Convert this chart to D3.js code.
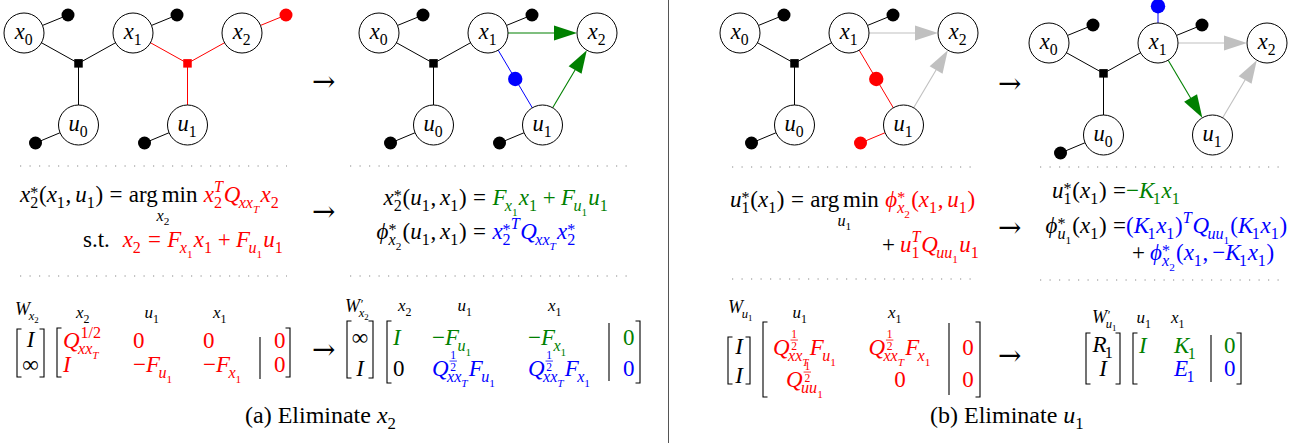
<!DOCTYPE html>
<html><head><meta charset="utf-8">
<script src="https://cdn.jsdelivr.net/npm/d3@7/dist/d3.min.js"></script>
<style>
html,body{margin:0;padding:0;background:#fff;}
svg{display:block;font-family:"Liberation Serif","Times New Roman",serif;}
</style></head><body>
<svg id="fig" width="1312" height="443" font-family="Liberation Serif, Times New Roman, serif"></svg>
<script>
const PAL = {black:"#000000", red:"#ff0000", green:"#008000", blue:"#0000ff", gray:"#c0c0c0"};

// ---------- factor graphs ----------
const varNodes = [
  {id:"x0", v:"x", k:"0", col:0,   row:0},
  {id:"x1", v:"x", k:"1", col:1,   row:0},
  {id:"x2", v:"x", k:"2", col:2,   row:0},
  {id:"u0", v:"u", k:"0", col:0.5, row:1},
  {id:"u1", v:"u", k:"1", col:1.5, row:1}
];
const dynFactor = {shape:"square", col:0.5, row:0.33, color:"black", links:["x0","x1","u0"]};

const factorsA = [dynFactor, {shape:"square", col:1.5, row:0.33, color:"red", links:["x1","x2","u1"]}];
const priorsA  = [{node:"x0",color:"black"},{node:"x1",color:"black"},{node:"x2",color:"red"},{node:"u0",color:"black"},{node:"u1",color:"black"}];
const arrowsA  = [];

const factorsB = [dynFactor, {shape:"dot", col:1.25, row:0.5, color:"blue", links:["x1","u1"]}];
const priorsB  = [{node:"x0",color:"black"},{node:"x1",color:"black"},{node:"u0",color:"black"},{node:"u1",color:"black"}];
const arrowsB  = [{from:"x1",to:"x2",color:"green"},{from:"u1",to:"x2",color:"green"}];

const factorsC = [dynFactor, {shape:"dot", col:1.25, row:0.5, color:"red", links:["x1","u1"]}];
const priorsC  = [{node:"x0",color:"black"},{node:"x1",color:"black"},{node:"u0",color:"black"},{node:"u1",color:"red"}];
const arrowsC  = [{from:"x1",to:"x2",color:"gray"},{from:"u1",to:"x2",color:"gray"}];

const factorsD = [dynFactor, {shape:"dot", col:1, row:-0.4, color:"blue", links:["x1"]}];
const priorsD  = [{node:"x0",color:"black"},{node:"x1",color:"black"},{node:"u0",color:"black"}];
const arrowsD  = [{from:"x1",to:"u1",color:"green"},{from:"x1",to:"x2",color:"gray"},{from:"u1",to:"x2",color:"gray"}];

// ---------- equations ----------
const eqA = {
  line1: "x_2^*(x_1,\\,u_1)\\;=\\;\\argmin{x_2}\\;\\R{x_2^T Q_{xx_T} x_2}",
  line2: "\\rm{s.t.}\\;\\;\\R{x_2\\;=\\;F_{x_1}x_1\\:+\\:F_{u_1}u_1}"
};
const eqA2lhs = ["x_2^*(u_1,\\,x_1)", "\\phi^*_{x_2}(u_1,\\,x_1)"];
const eqA2rhs = ["=\\;\\G{F_{x_1}x_1\\:+\\:F_{u_1}u_1}", "=\\;\\B{x_2^{*T}Q_{xx_T}x_2^*}"];
const eqB = {
  line1: "u_1^*(x_1)\\;=\\;\\argmin{u_1}\\;\\R{\\phi^*_{x_2}(x_1,\\,u_1)}",
  line2: "+\\:\\R{u_1^T Q_{uu_1} u_1}"
};
const eqB2lhs = ["u_1^*(x_1)", "\\phi^*_{u_1}(x_1)"];
const eqB2rhs = ["=\\G{-K_1x_1}", "=\\B{(K_1x_1)^T Q_{uu_1}(K_1x_1)}"];
const eqB2cont = "+\\:\\B{\\phi^*_{x_2}(x_1,\\,-K_1x_1)}";

// ---------- matrices ----------
const matA1W = "W_{x_2}",  matA1Vec = ["I","\\infty"], matA1Cols = ["x_2","u_1","x_1"];
const matA1Rows = [["\\R{Q^{1/2}_{xx_T}}","\\R{0}","\\R{0}"],["\\R{I}","\\R{-F_{u_1}}","\\R{-F_{x_1}}"]];
const matA1Rhs = ["\\R{0}","\\R{0}"];

const matA2W = "W^{'}_{x_2}", matA2Vec = ["\\infty","I"], matA2Cols = ["x_2","u_1","x_1"];
const matA2Rows = [["\\G{I}","\\G{-F_{u_1}}","\\G{-F_{x_1}}"],["0","\\B{Q^{\\frac12}_{xx_T}F_{u_1}}","\\B{Q^{\\frac12}_{xx_T}F_{x_1}}"]];
const matA2Rhs = ["\\G{0}","\\B{0}"];

const matB1W = "W_{u_1}", matB1Vec = ["I","I"], matB1Cols = ["u_1","x_1"];
const matB1Rows = [["\\R{Q^{\\frac12}_{xx_T}F_{u_1}}","\\R{Q^{\\frac12}_{xx_T}F_{x_1}}"],["\\R{Q^{\\frac12}_{uu_1}}","\\R{0}"]];
const matB1Rhs = ["\\R{0}","\\R{0}"];

const matB2W = "W^{'}_{u_1}", matB2Vec = ["R_1","I"], matB2Cols = ["u_1","x_1"];
const matB2Rows = [["\\G{I}","\\G{K_1}"],["","\\B{E_1}"]];
const matB2Rhs = ["\\G{0}","\\B{0}"];

const captions = ["\\rm{(a) Eliminate}\\ x_2", "\\rm{(b) Eliminate}\\ u_1"];

// ================= rendering =================
const svg = d3.select("#fig");
const SERIF = "Liberation Serif, Times New Roman, serif";

// --- tiny math typesetter (subset of TeX notation) ---
function parseTeX(s) {
  let i = 0;
  const COLS = {R: PAL.red, G: PAL.green, B: PAL.blue};
  function seq(stop) {
    const out = [];
    while (i < s.length && s[i] !== stop) {
      let a = atom();
      if (a === null) continue;
      let sub = null, sup = null;
      while (s[i] === "_" || s[i] === "^") {
        const k = s[i++];
        const arg = group();
        if (k === "_") sub = arg; else sup = arg;
      }
      if (sub || sup) a = {b: [a], sub, sup};
      out.push(a);
    }
    return out;
  }
  function group() {
    while (s[i] === " ") i++;
    if (s[i] === "{") { i++; const r = seq("}"); i++; return r; }
    const a = atom();
    return a ? [a] : [];
  }
  function atom() {
    const ch = s[i];
    if (ch === " ") { i++; return null; }
    if (ch === "{") { i++; const r = seq("}"); i++; return {g: r}; }
    if (ch === "\\") {
      i++;
      const n0 = s[i];
      const SP = {",": 0.167, ":": 0.222, ";": 0.278, " ": 0.25, "!": -0.167};
      if (n0 in SP) { i++; return {sp: SP[n0]}; }
      let name = "";
      while (i < s.length && /[a-zA-Z]/.test(s[i])) name += s[i++];
      if (name === "phi") return {t: "\u03d5", i: true};
      if (name === "infty") return {t: "\u221e"};
      if (name in COLS) return {g: group(), c: COLS[name]};
      if (name === "rm") { i++; let t = ""; while (s[i] !== "}") t += s[i++]; i++; return {t}; }
      if (name === "frac") { const n = group(); const d = group(); return {fr: [n, d]}; }
      if (name === "argmin") return {lim: ["arg", "min"], below: group()};
      return {t: name};
    }
    i++;
    if (/[a-zA-Z]/.test(ch)) return {t: ch, i: true};
    if (ch === "-") return {t: "\u2212"};
    if (ch === "*") return {t: "*", dy: 0.33};
    if (ch === "'") return {t: "\u2032", dy: 0.25};
    return {t: ch};
  }
  return seq(null);
}

function lay(g, items, x, y, size, color) {
  let cx = x;
  for (const it of items) {
    if (!it) continue;
    const c = it.c || color;
    if (it.sp !== undefined) {
      cx += it.sp * size;
    } else if (it.g) {
      cx += lay(g, it.g, cx, y, size, c);
    } else if (it.t !== undefined) {
      const el = g.append("text").attr("x", cx).attr("y", y + (it.dy || 0) * size)
        .attr("font-family", SERIF).attr("font-size", size).attr("fill", c)
        .attr("font-style", it.i ? "italic" : "normal").text(it.t);
      cx += el.node().getComputedTextLength();
    } else if (it.lim) {
      // operator words set upright, with the limit centred underneath
      const x0 = cx;
      it.lim.forEach((word, k) => {
        if (k) cx += 0.167 * size;
        const el = g.append("text").attr("x", cx).attr("y", y).attr("font-size", size)
          .attr("font-family", SERIF).attr("fill", c).text(word);
        cx += el.node().getComputedTextLength();
      });
      const gb = g.append("g");
      const wb = lay(gb, it.below, 0, y + 0.82 * size, size * 0.7, c);
      gb.attr("transform", `translate(${x0 + (cx - x0 - wb) / 2},0)`);
    } else if (it.fr) {
      const fs = size * 0.72, bar = y - 0.5 * size;
      const gn = g.append("g"), gd = g.append("g");
      const wn = lay(gn, it.fr[0], 0, bar - 0.1 * size, fs, c);
      const wd = lay(gd, it.fr[1], 0, bar + 0.1 * size + 0.7 * fs, fs, c);
      const w = Math.max(wn, wd) + 0.1 * size;
      gn.attr("transform", `translate(${cx + (w - wn) / 2},0)`);
      gd.attr("transform", `translate(${cx + (w - wd) / 2},0)`);
      g.append("line").attr("x1", cx).attr("x2", cx + w).attr("y1", bar).attr("y2", bar)
        .attr("stroke", c).attr("stroke-width", Math.max(0.6, size * 0.05));
      cx += w;
    } else if (it.b) {
      cx += lay(g, it.b, cx, y, size, c);
      const ss = size * 0.7;
      const base = it.b[0];
      const capItalic = base && base.i && /[FQKWRE]/.test(base.t || "");
      let w = 0;
      if (it.sub) {
        const off = capItalic ? -0.07 * size : 0;
        const gs = g.append("g");
        const ws = lay(gs, it.sub, 0, y + 0.27 * size, ss, c);
        gs.attr("transform", `translate(${cx + off},0)`);
        w = Math.max(w, ws + off);
      }
      if (it.sup) {
        const hasFrac = it.sup.some(d => d && d.fr);
        const off = capItalic ? 0.04 * size : 0;
        const gs = g.append("g");
        const ws = lay(gs, it.sup, 0, hasFrac ? y - 0.3 * size : y - 0.42 * size, ss, c);
        gs.attr("transform", `translate(${cx + off},0)`);
        w = Math.max(w, ws + off);
      }
      cx += w + 0.03 * size;
    }
  }
  return cx - x;
}

function formula(parent, tex, x, y, size, anchor = "start", color = PAL.black) {
  const g = parent.append("g");
  const w = lay(g, parseTeX(tex), 0, 0, size, color);
  const dx = anchor === "middle" ? -w / 2 : anchor === "end" ? -w : 0;
  g.attr("transform", `translate(${x + dx},${y})`);
  return w;
}

// --- graphs ---
const R_NODE = 20, R_PRIOR = 6.5, R_MID = 7.2, SQ = 8.5, HEAD_L = 23, HEAD_W = 7.5;
const PRIOR_OFF = {x: [44, -18], u: [-43, 18]};

function drawGraph(origin, factors, priors, arrows) {
  const xs = d3.scaleLinear().domain([0, 1]).range([origin[0], origin[0] + 109]);
  const ys = d3.scaleLinear().domain([0, 1]).range([origin[1], origin[1] + 92]);
  const g = svg.append("g");
  const pos = {};
  varNodes.forEach(n => pos[n.id] = [xs(n.col), ys(n.row)]);
  const eg = g.append("g"), ng = g.append("g"), fg = g.append("g");

  factors.forEach(f => {
    const p = [xs(f.col), ys(f.row)];
    f.links.forEach(id => {
      eg.append("line").attr("x1", p[0]).attr("y1", p[1]).attr("x2", pos[id][0]).attr("y2", pos[id][1])
        .attr("stroke", PAL[f.color]).attr("stroke-width", 1);
    });
    if (f.shape === "square") {
      fg.append("rect").attr("x", p[0] - SQ / 2).attr("y", p[1] - SQ / 2).attr("width", SQ).attr("height", SQ)
        .attr("fill", PAL[f.color]);
    } else {
      fg.append("circle").attr("cx", p[0]).attr("cy", p[1]).attr("r", R_MID).attr("fill", PAL[f.color]);
    }
  });
  priors.forEach(pr => {
    const n = varNodes.find(d => d.id === pr.node);
    const o = PRIOR_OFF[n.v];
    const p = pos[n.id], q = [p[0] + o[0], p[1] + o[1]];
    eg.append("line").attr("x1", p[0]).attr("y1", p[1]).attr("x2", q[0]).attr("y2", q[1])
      .attr("stroke", PAL[pr.color]).attr("stroke-width", 1);
    fg.append("circle").attr("cx", q[0]).attr("cy", q[1]).attr("r", R_PRIOR).attr("fill", PAL[pr.color]);
  });
  arrows.forEach(a => {
    const s = pos[a.from], t = pos[a.to];
    const dx = t[0] - s[0], dy = t[1] - s[1], L = Math.hypot(dx, dy);
    const ux = dx / L, uy = dy / L, nx = -uy, ny = ux;
    const st = [s[0] + ux * R_NODE, s[1] + uy * R_NODE];
    const tip = [t[0] - ux * R_NODE, t[1] - uy * R_NODE];
    const base = [tip[0] - ux * HEAD_L, tip[1] - uy * HEAD_L];
    eg.append("line").attr("x1", st[0]).attr("y1", st[1]).attr("x2", base[0] + ux * 2).attr("y2", base[1] + uy * 2)
      .attr("stroke", PAL[a.color]).attr("stroke-width", 1.1);
    fg.append("path").attr("d", `M${tip[0]},${tip[1]}L${base[0] + nx * HEAD_W},${base[1] + ny * HEAD_W}L${base[0] - nx * HEAD_W},${base[1] - ny * HEAD_W}Z`)
      .attr("fill", PAL[a.color]);
  });
  varNodes.forEach(n => {
    const p = pos[n.id];
    ng.append("circle").attr("cx", p[0]).attr("cy", p[1]).attr("r", R_NODE)
      .attr("fill", "#fff").attr("stroke", "#000").attr("stroke-width", 1);
    formula(ng, `${n.v}_${n.k}`, p[0], p[1] + 5.5, 22.5, "middle");
  });
}

drawGraph([24, 33], factorsA, priorsA, arrowsA);
drawGraph([379, 33], factorsB, priorsB, arrowsB);
drawGraph([740, 33], factorsC, priorsC, arrowsC);
drawGraph([1049, 43], factorsD, priorsD, arrowsD);

// --- panel divider ---
svg.append("line").attr("x1", 668.5).attr("x2", 668.5).attr("y1", 0).attr("y2", 443)
  .attr("stroke", "#555").attr("stroke-width", 1);

// --- transition arrows ---
[[312, 83], [312, 213], [312, 351], [998, 85], [998, 229], [998, 357]].forEach(([x, y]) => {
  svg.append("text").attr("x", x).attr("y", y + 8).attr("font-family", "DejaVu Serif")
    .attr("font-size", 28).attr("font-weight", 300).text("\u2192");
});

// --- dotted separators ---
[[20, 287, 166], [20, 287, 276], [350, 632, 166], [350, 632, 276],
 [732, 973, 167], [732, 973, 279], [1040, 1280, 167], [1040, 1280, 280]].forEach(([a, b, y]) => {
  svg.append("line").attr("x1", a).attr("x2", b).attr("y1", y).attr("y2", y)
    .attr("stroke", "#888").attr("stroke-width", 1.2).attr("stroke-dasharray", "1.2 8.3");
});

// --- equations ---
const FS = 23;
formula(svg, eqA.line1, 20, 202, FS);
formula(svg, eqA.line2, 83, 247, FS);
const xEqA = 473;
[205, 239].forEach((y, k) => {
  formula(svg, eqA2lhs[k], xEqA - 0.278 * FS, y, FS, "end");
  formula(svg, eqA2rhs[k], xEqA, y, FS);
});
formula(svg, eqB.line1, 730, 207, FS);
formula(svg, eqB.line2, 882, 252, FS);
const xEqB = 1113;
[198, 233].forEach((y, k) => {
  formula(svg, eqB2lhs[k], xEqB - 0.278 * FS, y, FS, "end");
  formula(svg, eqB2rhs[k], xEqB, y, FS);
});
formula(svg, eqB2cont, 1132, 260, FS);

// --- matrices ---
const MS = 23;
function bracket(x1, x2, top, bot, serif = 4.5) {
  svg.append("path").attr("d", `M${x1 + serif},${top}H${x1}V${bot}H${x1 + serif}`)
    .attr("fill", "none").attr("stroke", "#000").attr("stroke-width", 1.1);
  svg.append("path").attr("d", `M${x2 - serif},${top}H${x2}V${bot}H${x2 - serif}`)
    .attr("fill", "none").attr("stroke", "#000").attr("stroke-width", 1.1);
}
function drawMatrix(L, W, vec, cols, rows, rhs) {
  formula(svg, W, L.W[0], L.W[1], 18);
  cols.forEach((c, j) => formula(svg, c, L.labX[j], L.labY, 17, "middle"));
  bracket(L.vec[0], L.vec[1], L.vec[2], L.vec[3]);
  vec.forEach((v, r) => formula(svg, v, (L.vec[0] + L.vec[1]) / 2, L.vecY[r], MS, "middle"));
  bracket(L.br[0], L.br[1], L.br[2], L.br[3]);
  rows.forEach((row, r) => row.forEach((cell, j) => {
    if (cell) formula(svg, cell, L.cellX[j], L.rowY[r], MS, L.align);
  }));
  rhs.forEach((cell, r) => formula(svg, cell, L.rhsX, L.rowY[r], MS, L.align));
  svg.append("line").attr("x1", L.sep[0]).attr("x2", L.sep[0]).attr("y1", L.sep[1]).attr("y2", L.sep[2])
    .attr("stroke", "#000").attr("stroke-width", 1.1);
}
drawMatrix({W: [15, 315], labX: [83, 152, 220], labY: 318, vec: [17, 44, 329, 377], vecY: [347, 372],
            br: [57, 290, 328, 377], rowY: [348, 372], cellX: [63, 133, 203], rhsX: 274, align: "start",
            sep: [260, 337, 379]}, matA1W, matA1Vec, matA1Cols, matA1Rows, matA1Rhs);
drawMatrix({W: [345, 312], labX: [405, 465, 555], labY: 311, vec: [347, 373, 321, 378], vecY: [345, 376],
            br: [387, 640, 321, 383], rowY: [345, 376], cellX: [393, 432, 528], rhsX: 623, align: "start",
            sep: [609, 323, 381]}, matA2W, matA2Vec, matA2Cols, matA2Rows, matA2Rhs);
drawMatrix({W: [728, 313], labX: [800, 895], labY: 318, vec: [728, 750, 337, 384], vecY: [354, 383],
            br: [763, 980, 322, 397], rowY: [355, 387], cellX: [805, 900], rhsX: 968, align: "middle",
            sep: [949, 323, 395]}, matB1W, matB1Vec, matB1Cols, matB1Rows, matB1Rhs);
drawMatrix({W: [1092, 323], labX: [1144, 1178], labY: 323, vec: [1086, 1120, 333, 384], vecY: [352, 376],
            br: [1133, 1241, 333, 384], rowY: [353, 376], cellX: [1139, 1174], rhsX: 1224, align: "start",
            sep: [1211, 335, 382]}, matB2W, matB2Vec, matB2Cols, matB2Rows, matB2Rhs);

// --- captions ---
formula(svg, captions[0], 245, 423, 24);
formula(svg, captions[1], 930, 423, 24);
</script>
</body></html>
